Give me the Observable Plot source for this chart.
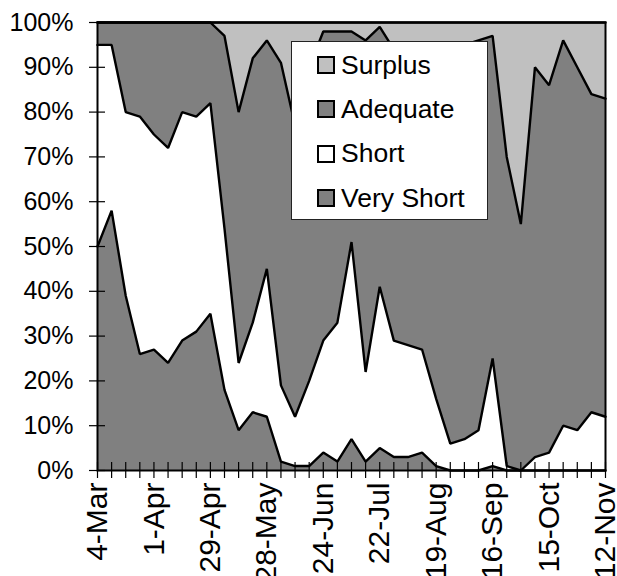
<!DOCTYPE html>
<html>
<head>
<meta charset="utf-8">
<script src="https://cdn.jsdelivr.net/npm/d3@7"></script>
<script src="https://cdn.jsdelivr.net/npm/@observablehq/plot@0.6"></script>
<style>
  html, body { margin: 0; padding: 0; background: #fff; }
  #wrap { position: relative; width: 617px; height: 576px; overflow: hidden; font-family: "Liberation Sans", Arial, sans-serif; }
  #legend { position: absolute; left: 291px; top: 41px; width: 197px; height: 179px; background: #fff; border: 1px solid #222; box-sizing: border-box; }
  .item { position: absolute; left: 25px; display: flex; align-items: center; font-size: 26.5px; color: #000; line-height: 1; }
  .sw { width: 14px; height: 14px; border: 2px solid #000; margin-right: 6px; }
</style>
</head>
<body>
<div id="wrap"><div id="chart"></div><div id="legend"></div></div>
<script>
const categories = ["4-Mar","11-Mar","18-Mar","25-Mar","1-Apr","8-Apr","15-Apr","22-Apr","29-Apr","6-May","13-May","20-May","28-May","4-Jun","11-Jun","18-Jun","24-Jun","1-Jul","8-Jul","15-Jul","22-Jul","29-Jul","5-Aug","12-Aug","19-Aug","26-Aug","2-Sep","9-Sep","16-Sep","23-Sep","30-Sep","7-Oct","15-Oct","22-Oct","29-Oct","5-Nov","12-Nov"];
const tickLabels = ["4-Mar","1-Apr","29-Apr","28-May","24-Jun","22-Jul","19-Aug","16-Sep","15-Oct","12-Nov"];
const seriesNames = ["Very Short","Short","Adequate","Surplus"];
const veryShort = [50,58,39,26,27,24,29,31,35,18,9,13,12,2,1,1,4,2,7,2,5,3,3,4,1,0,0,0,1,0,0,0,0,0,0,0,0];
const short     = [45,37,41,53,48,48,51,48,47,36,15,20,33,17,11,19,25,31,44,20,36,26,25,23,15,6,7,9,24,1,0,3,4,10,9,13,12];
const adequate  = [5,5,20,21,25,28,20,21,18,43,56,59,51,72,65,70,69,65,47,74,58,65,65,65,78,89,88,87,72,69,55,87,82,86,81,71,71];
const surplus   = [0,0,0,0,0,0,0,0,0,3,20,8,4,9,23,10,2,2,2,4,1,6,7,8,6,5,5,4,3,30,45,10,14,4,10,16,17];
const yTicks = [0,10,20,30,40,50,60,70,80,90,100];
const colors = ["#808080","#ffffff","#808080","#c0c0c0"];

const valuesBySeries = [veryShort, short, adequate, surplus];
const rows = [];
seriesNames.forEach((s, k) => {
  valuesBySeries[k].forEach((v, i) => rows.push({series: s, i, value: v}));
});
const idx = categories.map((_, i) => i);

const chart = Plot.plot({
  width: 617,
  height: 576,
  marginLeft: 97,
  marginRight: 12,
  marginTop: 22,
  marginBottom: 106,
  style: {background: "#fff", fontFamily: "'Liberation Sans', Arial, sans-serif", fontSize: "25px", color: "#000"},
  x: {domain: [0, categories.length - 1], axis: null},
  y: {domain: [0, 100], axis: null},
  color: {domain: seriesNames, range: colors},
  marks: [
    Plot.areaY(rows, {x: "i", y: "value", z: "series", fill: "series", order: seriesNames, curve: "linear"}),
    Plot.lineY(rows, Plot.stackY2({x: "i", y: "value", z: "series", order: seriesNames, stroke: "#000", strokeWidth: 2.4, strokeLinejoin: "miter"})),
    Plot.frame({stroke: "#000", strokeWidth: 2}),
    Plot.axisY({ticks: yTicks, tickSize: 8, tickPadding: 16, tickFormat: d => d + "%", fontSize: 25, label: null, stroke: "#000", strokeWidth: 1.2}),
    Plot.axisY({ticks: yTicks, tickSize: 8, dx: 8, tickFormat: () => "", label: null, stroke: "#000", strokeWidth: 1.2}),
    Plot.axisX({ticks: idx, tickSize: 8, tickPadding: 4, tickRotate: -90, fontSize: 30, tickFormat: i => (i % 4 === 0 ? categories[i] : ""), label: null, stroke: "#000", strokeWidth: 1.2}),
    Plot.axisX({ticks: idx, tickSize: 8, dy: -8, tickFormat: () => "", label: null, stroke: "#000", strokeWidth: 1.2})
  ]
});
document.getElementById("chart").appendChild(chart);

const legend = document.getElementById("legend");
const legendOrder = ["Surplus","Adequate","Short","Very Short"];
legendOrder.forEach((s, k) => {
  const it = document.createElement("div");
  it.className = "item";
  it.style.top = (10 + k * 44.2) + "px";
  const sw = document.createElement("div");
  sw.className = "sw";
  sw.style.background = colors[seriesNames.indexOf(s)];
  const tx = document.createElement("span");
  tx.textContent = s;
  it.appendChild(sw); it.appendChild(tx);
  legend.appendChild(it);
});
</script>
</body>
</html>
